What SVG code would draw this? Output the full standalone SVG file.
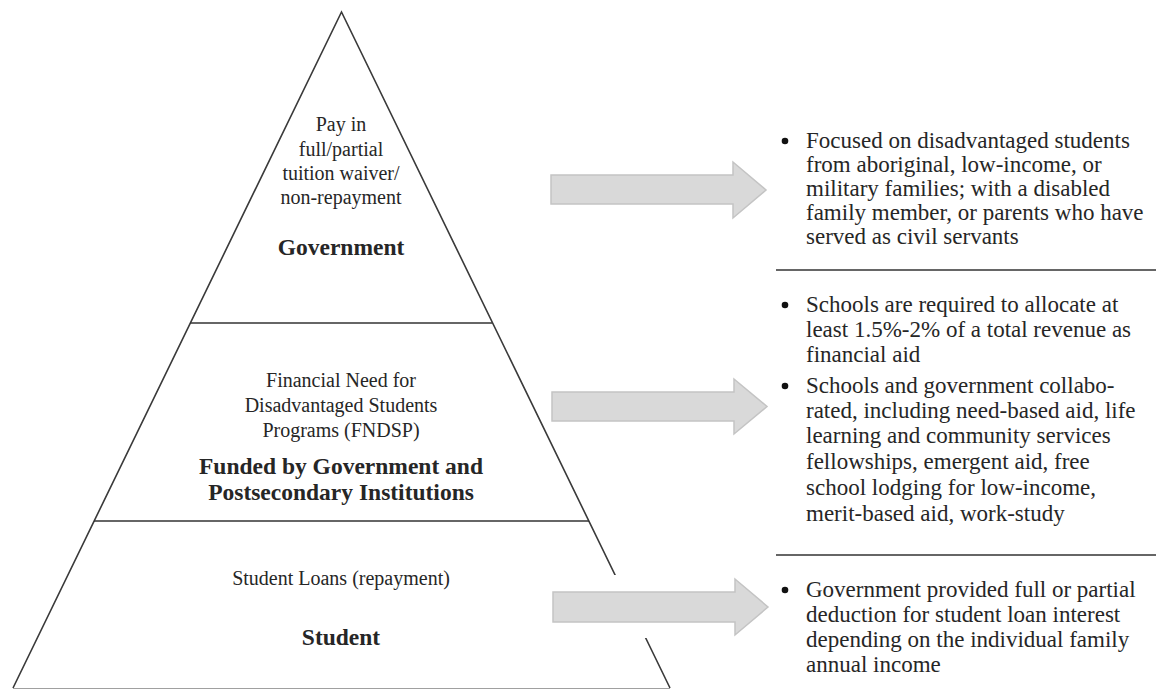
<svg xmlns="http://www.w3.org/2000/svg" width="1156" height="690" viewBox="0 0 1156 690">
<style>
.edge{stroke:#3a3a3a;stroke-width:1.6;fill:none}
.base{stroke:#a0a0a0;stroke-width:1.2}
.div{stroke:#333;stroke-width:1.5}
.t{font-family:"Liberation Serif","Times New Roman",serif;font-size:20px;fill:#262626;text-anchor:middle}
.b{font-weight:bold;font-size:23.5px}
.r{font-family:"Liberation Serif","Times New Roman",serif;font-size:23px;fill:#262626}
.arrow{fill:#d9d9d9;stroke:#c4c4c4;stroke-width:1.5}
.dot{fill:#111}
</style>
<rect width="1156" height="690" fill="#fff"/>
<g id="pyramid">
  <path class="edge" d="M13,688 L341.5,12 L670,688"/>
  <line class="base" x1="13" y1="688.5" x2="670" y2="688.5"/>
  <line class="div" x1="190" y1="323" x2="492" y2="323"/>
  <line class="div" x1="94" y1="521" x2="589" y2="521"/>
</g>
<g id="tier-government">
  <text class="t" x="341" y="131">Pay in</text>
  <text class="t" x="341" y="156">full/partial</text>
  <text class="t" x="341" y="180">tuition waiver/</text>
  <text class="t" x="341" y="204">non-repayment</text>
  <text class="t b" x="341" y="255">Government</text>
</g>
<g id="tier-fndsp">
  <text class="t" x="341" y="387">Financial Need for</text>
  <text class="t" x="341" y="412">Disadvantaged Students</text>
  <text class="t" x="341" y="437">Programs (FNDSP)</text>
  <text class="t b" x="341" y="474">Funded by Government and</text>
  <text class="t b" x="341" y="500">Postsecondary Institutions</text>
</g>
<g id="tier-student">
  <text class="t" x="341" y="585">Student Loans (repayment)</text>
  <text class="t b" x="341" y="645">Student</text>
</g>
<g id="connectors">
  <path class="arrow" d="M551,175 H733 V162 L766,190 L733,218 V204 H551 Z"/>
  <path class="arrow" d="M552,392 H734 V379 L767,406.5 L734,434 V421 H552 Z"/>
  <rect x="548" y="575" width="225" height="63" fill="#fff"/>
  <path class="arrow" d="M553,592 H735 V579 L768,607 L735,635 V622 H553 Z"/>
</g>
<g id="notes-government">
  <circle class="dot" cx="785" cy="141" r="3.3"/>
  <text class="r" x="806" y="148">Focused on disadvantaged students</text>
  <text class="r" x="806" y="172">from aboriginal, low-income, or</text>
  <text class="r" x="806" y="196">military families; with a disabled</text>
  <text class="r" x="806" y="220">family member, or parents who have</text>
  <text class="r" x="806" y="244">served as civil servants</text>
  <line class="div" x1="776" y1="270" x2="1156" y2="270"/>
</g>
<g id="notes-fndsp">
  <circle class="dot" cx="785" cy="305" r="3.3"/>
  <text class="r" x="806" y="312">Schools are required to allocate at</text>
  <text class="r" x="806" y="337">least 1.5%-2% of a total revenue as</text>
  <text class="r" x="806" y="362">financial aid</text>
  <circle class="dot" cx="785" cy="386" r="3.3"/>
  <text class="r" x="806" y="393">Schools and government collabo-</text>
  <text class="r" x="806" y="418">rated, including need-based aid, life</text>
  <text class="r" x="806" y="443">learning and community services</text>
  <text class="r" x="806" y="469">fellowships, emergent aid, free</text>
  <text class="r" x="806" y="495">school lodging for low-income,</text>
  <text class="r" x="806" y="521">merit-based aid, work-study</text>
  <line class="div" x1="776" y1="555" x2="1156" y2="555"/>
</g>
<g id="notes-student">
  <circle class="dot" cx="785" cy="590" r="3.3"/>
  <text class="r" x="806" y="597">Government provided full or partial</text>
  <text class="r" x="806" y="622">deduction for student loan interest</text>
  <text class="r" x="806" y="647">depending on the individual family</text>
  <text class="r" x="806" y="672">annual income</text>
</g>
</svg>
